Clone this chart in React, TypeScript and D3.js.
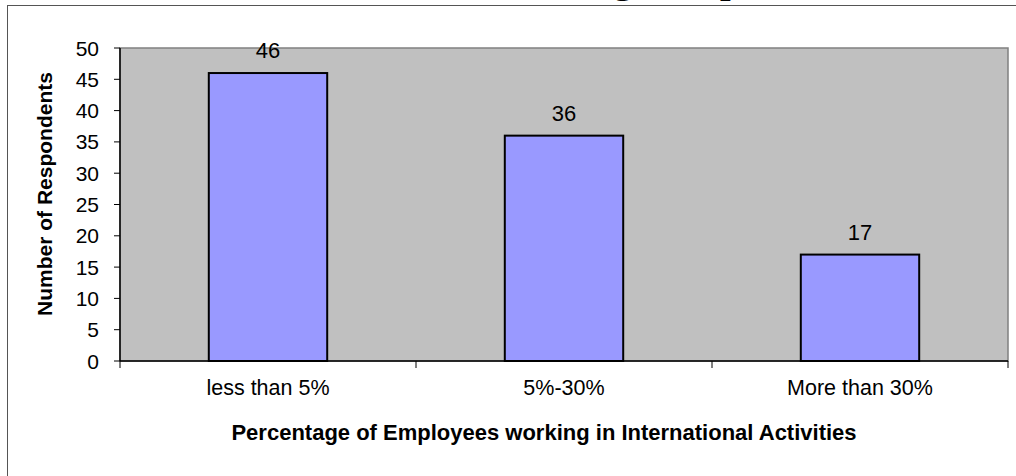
import React from "react";
import * as d3 from "d3";

const categories = ["less than 5%", "5%-30%", "More than 30%"];
const respondents = [46, 36, 17];
const yTicks = [0, 5, 10, 15, 20, 25, 30, 35, 40, 45, 50];
const titleLeft = "International Activities among";
const titleRight = "Companies";
const xTitle = "Percentage of Employees working in International Activities";
const yTitle = "Number of Respondents";

const W = 1016;
const H = 476;
const plot = { left: 120, right: 1008, top: 48, bottom: 361 };

export default function App() {
  const x = d3
    .scaleBand<string>()
    .domain(categories)
    .range([plot.left, plot.right])
    .paddingInner(0)
    .paddingOuter(0);
  const y = d3.scaleLinear().domain([0, 50]).range([plot.bottom, plot.top]);
  const bw = x.bandwidth() * 0.4;
  const boundaries = [plot.left, ...categories.map((c) => (x(c) as number) + x.bandwidth())];
  const sans = "Liberation Sans, Arial, sans-serif";

  return (
    <svg
      width={W}
      height={H}
      style={{ position: "absolute", left: 0, top: 0, background: "#fff", display: "block" }}
    >
      {/* outer chart border */}
      <rect x={7.5} y={5.5} width={W + 10} height={H + 10} fill="#fff" stroke="#555" strokeWidth={1} />
      {/* title (clipped at top) */}
      <g fontFamily="Liberation Serif, Times New Roman, serif" fontWeight="bold" fontSize={38} fill="#000">
        <text x={632.5} y={-7} textAnchor="end">{titleLeft}</text>
        <text x={642} y={-7}>{titleRight}</text>
      </g>
      {/* plot area */}
      <rect
        x={plot.left}
        y={plot.top}
        width={plot.right - plot.left}
        height={plot.bottom - plot.top}
        fill="#C0C0C0"
        stroke="#808080"
        strokeWidth={1.5}
      />
      {/* bars */}
      {categories.map((c, i) => {
        const cx = (x(c) as number) + x.bandwidth() / 2;
        return (
          <g key={c}>
            <rect
              x={cx - bw / 2}
              y={y(respondents[i])}
              width={bw}
              height={y(0) - y(respondents[i])}
              fill="#9999FF"
              stroke="#000"
              strokeWidth={2}
            />
            <text
              x={cx}
              y={y(respondents[i]) - 15}
              textAnchor="middle"
              fontFamily={sans}
              fontSize={22}
              fill="#000"
            >
              {respondents[i]}
            </text>
            <text x={cx} y={395} textAnchor="middle" fontFamily={sans} fontSize={21.5} fill="#000">
              {c}
            </text>
          </g>
        );
      })}
      {/* y axis */}
      <line x1={plot.left} x2={plot.left} y1={plot.top} y2={plot.bottom} stroke="#000" strokeWidth={1.5} />
      {yTicks.map((t) => (
        <g key={t}>
          <line x1={plot.left - 6} x2={plot.left} y1={y(t)} y2={y(t)} stroke="#000" strokeWidth={1} />
          <text
            x={99}
            y={y(t)}
            dy="0.36em"
            textAnchor="end"
            fontFamily={sans}
            fontSize={21}
            fill="#000"
          >
            {t}
          </text>
        </g>
      ))}
      {/* x axis */}
      <line x1={plot.left} x2={plot.right} y1={plot.bottom} y2={plot.bottom} stroke="#000" strokeWidth={1.5} />
      {boundaries.map((b, i) => (
        <line key={i} x1={b} x2={b} y1={plot.bottom} y2={plot.bottom + 7} stroke="#000" strokeWidth={1} />
      ))}
      {/* axis titles */}
      <text
        x={544}
        y={440}
        textAnchor="middle"
        fontFamily={sans}
        fontWeight="bold"
        fontSize={22}
        fill="#000"
      >
        {xTitle}
      </text>
      <text
        transform={`translate(52, 194) rotate(-90)`}
        textAnchor="middle"
        fontFamily={sans}
        fontWeight="bold"
        fontSize={21}
        fill="#000"
      >
        {yTitle}
      </text>
    </svg>
  );
}
